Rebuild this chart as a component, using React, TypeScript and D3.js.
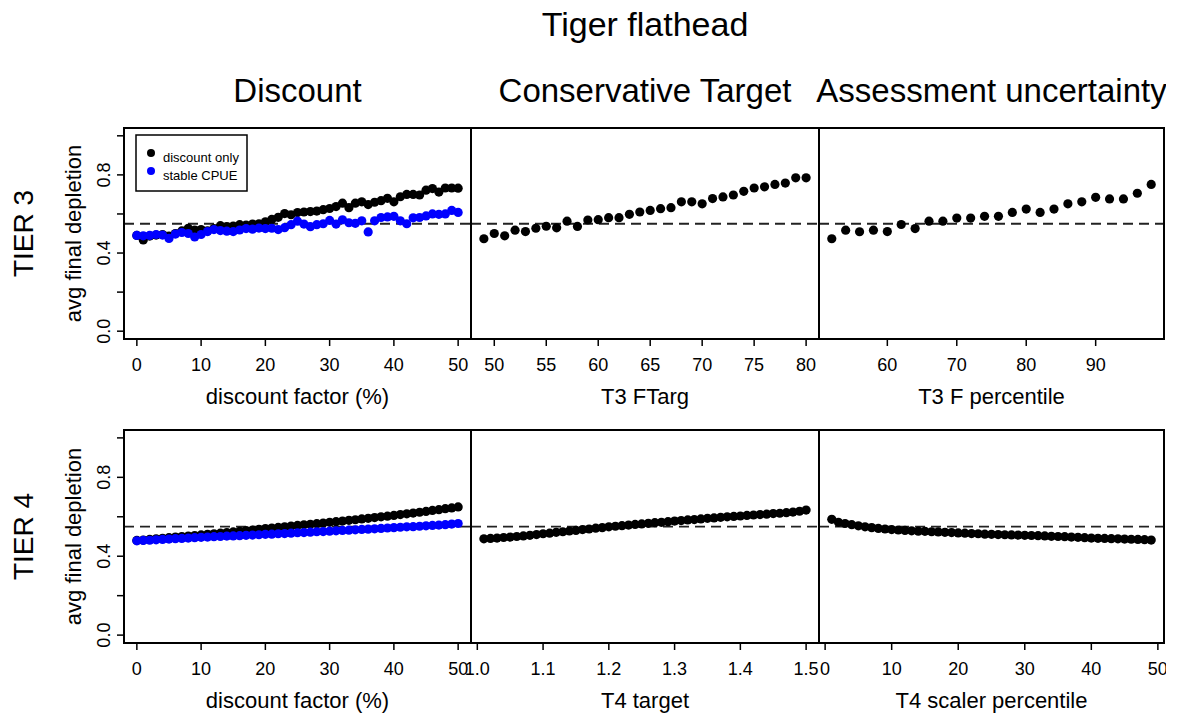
import React from "react";
import * as d3 from "d3";

// ---- data -----------------------------------------------------------------
const discountPct = d3.range(0, 51); // 0..50 %

const t3DiscountOnly = [
  0.490, 0.467, 0.487, 0.492, 0.495, 0.487, 0.500, 0.513, 0.527, 0.518,
  0.520, 0.513, 0.525, 0.540, 0.535, 0.538, 0.545, 0.543, 0.548, 0.550,
  0.560, 0.572, 0.583, 0.602, 0.596, 0.607, 0.610, 0.612, 0.615, 0.622,
  0.628, 0.638, 0.655, 0.632, 0.655, 0.662, 0.648, 0.660, 0.668, 0.680,
  0.662, 0.688, 0.700, 0.700, 0.697, 0.722, 0.730, 0.712, 0.733, 0.733,
  0.732,
];
const t3StableCPUE = [
  0.490, 0.488, 0.490, 0.495, 0.492, 0.475, 0.497, 0.505, 0.500, 0.482,
  0.495, 0.510, 0.520, 0.515, 0.512, 0.510, 0.518, 0.525, 0.522, 0.528,
  0.525, 0.527, 0.520, 0.530, 0.545, 0.563, 0.548, 0.535, 0.545, 0.550,
  0.567, 0.548, 0.570, 0.555, 0.552, 0.565, 0.508, 0.565, 0.582, 0.585,
  0.588, 0.565, 0.550, 0.580, 0.582, 0.590, 0.600, 0.598, 0.600, 0.618,
  0.608,
];

const t3FTarg = d3.range(49, 81); // 49..80
const t3FTargDepl = [
  0.473, 0.500, 0.488, 0.517, 0.510, 0.527, 0.537, 0.529, 0.563, 0.536,
  0.569, 0.571, 0.581, 0.581, 0.598, 0.610, 0.618, 0.627, 0.632, 0.662,
  0.662, 0.652, 0.679, 0.687, 0.697, 0.716, 0.733, 0.739, 0.751, 0.758,
  0.785, 0.785,
];

const t3FPct = d3.range(52, 99, 2); // 52..98
const t3FPctDepl = [
  0.473, 0.517, 0.509, 0.517, 0.510, 0.546, 0.525, 0.563, 0.563, 0.579,
  0.579, 0.588, 0.588, 0.608, 0.625, 0.608, 0.625, 0.652, 0.662, 0.685,
  0.677, 0.677, 0.706, 0.751,
];

const t4DiscountOnly = [
  0.480, 0.482, 0.485, 0.488, 0.491, 0.494, 0.497, 0.500, 0.502, 0.505,
  0.508, 0.511, 0.514, 0.517, 0.520, 0.523, 0.526, 0.530, 0.533, 0.536,
  0.540, 0.543, 0.546, 0.549, 0.553, 0.556, 0.559, 0.562, 0.565, 0.568,
  0.572, 0.575, 0.578, 0.582, 0.585, 0.589, 0.592, 0.596, 0.600, 0.603,
  0.607, 0.611, 0.615, 0.619, 0.623, 0.627, 0.632, 0.636, 0.641, 0.645,
  0.650,
];
const t4StableCPUE = [
  0.478, 0.480, 0.481, 0.483, 0.485, 0.487, 0.489, 0.490, 0.492, 0.494,
  0.496, 0.497, 0.499, 0.500, 0.502, 0.503, 0.504, 0.506, 0.507, 0.509,
  0.511, 0.512, 0.514, 0.515, 0.517, 0.519, 0.520, 0.522, 0.524, 0.525,
  0.527, 0.529, 0.531, 0.532, 0.534, 0.536, 0.537, 0.539, 0.541, 0.543,
  0.545, 0.547, 0.549, 0.550, 0.552, 0.554, 0.556, 0.558, 0.560, 0.563,
  0.566,
];

const t4Target = d3.range(101, 151).map((v) => v / 100); // 1.01..1.50
const t4TargetDepl = [
  0.488, 0.490, 0.492, 0.495, 0.497, 0.500, 0.503, 0.506, 0.510, 0.514,
  0.517, 0.521, 0.524, 0.528, 0.531, 0.535, 0.538, 0.542, 0.545, 0.549,
  0.552, 0.555, 0.558, 0.561, 0.564, 0.567, 0.570, 0.572, 0.575, 0.578,
  0.581, 0.584, 0.586, 0.589, 0.592, 0.594, 0.597, 0.600, 0.602, 0.604,
  0.607, 0.609, 0.611, 0.613, 0.616, 0.618, 0.621, 0.624, 0.628, 0.634,
];

const t4ScalerPct = d3.range(1, 50); // 1..49
const t4ScalerDepl = [
  0.587, 0.572, 0.566, 0.560, 0.554, 0.549, 0.545, 0.541, 0.538, 0.535,
  0.533, 0.531, 0.529, 0.527, 0.526, 0.524, 0.523, 0.521, 0.520, 0.518,
  0.517, 0.515, 0.514, 0.512, 0.511, 0.510, 0.509, 0.508, 0.507, 0.506,
  0.505, 0.504, 0.503, 0.501, 0.500, 0.499, 0.497, 0.496, 0.494, 0.492,
  0.491, 0.490, 0.489, 0.488, 0.487, 0.486, 0.485, 0.484, 0.482,
];

const yTicks = [0, 0.2, 0.4, 0.6, 0.8, 1.0];
const yTickLabels = [0, 0.4, 0.8];
const refDepletion = 0.55;

const columnTitles = ["Discount", "Conservative Target", "Assessment uncertainty"];
const rowTitles = ["TIER 3", "TIER 4"];
const legendLabels = ["discount only", "stable CPUE"];
const seriesColors = ["#000000", "#0000ff"];

// ---- layout ---------------------------------------------------------------
const W = 1179;
const H = 713;
const colEdges = [124, 471, 819, 1164];
const rowEdges = [
  [128, 339],
  [430, 643],
];
const FONT = "'Liberation Sans', Arial, Helvetica, sans-serif";
const PT_R = 4.6;

type Series = { x: number[]; y: number[]; color: string };
type Panel = {
  row: number;
  col: number;
  series: Series[];
  ticks: number[];
  fmt: (v: number) => string;
  xlabel: string;
};

const panels: Panel[] = [
  {
    row: 0, col: 0,
    series: [
      { x: discountPct, y: t3DiscountOnly, color: seriesColors[0] },
      { x: discountPct, y: t3StableCPUE, color: seriesColors[1] },
    ],
    ticks: [0, 10, 20, 30, 40, 50], fmt: d3.format("d"),
    xlabel: "discount factor (%)",
  },
  {
    row: 0, col: 1,
    series: [{ x: t3FTarg, y: t3FTargDepl, color: seriesColors[0] }],
    ticks: [50, 55, 60, 65, 70, 75, 80], fmt: d3.format("d"),
    xlabel: "T3 FTarg",
  },
  {
    row: 0, col: 2,
    series: [{ x: t3FPct, y: t3FPctDepl, color: seriesColors[0] }],
    ticks: [60, 70, 80, 90], fmt: d3.format("d"),
    xlabel: "T3 F percentile",
  },
  {
    row: 1, col: 0,
    series: [
      { x: discountPct, y: t4DiscountOnly, color: seriesColors[0] },
      { x: discountPct, y: t4StableCPUE, color: seriesColors[1] },
    ],
    ticks: [0, 10, 20, 30, 40, 50], fmt: d3.format("d"),
    xlabel: "discount factor (%)",
  },
  {
    row: 1, col: 1,
    series: [{ x: t4Target, y: t4TargetDepl, color: seriesColors[0] }],
    ticks: [1.0, 1.1, 1.2, 1.3, 1.4, 1.5], fmt: d3.format(".1f"),
    xlabel: "T4 target",
  },
  {
    row: 1, col: 2,
    series: [{ x: t4ScalerPct, y: t4ScalerDepl, color: seriesColors[0] }],
    ticks: [0, 10, 20, 30, 40, 50], fmt: d3.format("d"),
    xlabel: "T4 scaler percentile",
  },
];

// R-style axis range: data extent padded by 4% on each side
function paddedDomain(vals: number[]): [number, number] {
  const [lo, hi] = d3.extent(vals) as [number, number];
  const pad = (hi - lo) * 0.04;
  return [lo - pad, hi + pad];
}

function PanelView({ p }: { p: Panel }) {
  const [x0, x1] = [colEdges[p.col], colEdges[p.col + 1]];
  const [y0, y1] = rowEdges[p.row];
  const allX = p.series.flatMap((s) => s.x);
  const xs = d3.scaleLinear().domain(paddedDomain(allX)).range([x0, x1]);
  const ys = d3.scaleLinear().domain([-0.04, 1.04]).range([y1, y0]);
  const [dlo, dhi] = xs.domain();
  const ticks = p.ticks.filter((t) => t >= dlo - 1e-9 && t <= dhi + 1e-9);
  const cx = (x0 + x1) / 2;
  const cy = (y0 + y1) / 2;

  return (
    <g>
      {/* reference depletion */}
      <line
        x1={x0} x2={x1} y1={ys(refDepletion)} y2={ys(refDepletion)}
        stroke="#222" strokeWidth={1.8} strokeDasharray="10,6"
      />
      {p.series.map((s, si) => (
        <g key={si} fill={s.color}>
          {s.x.map((xv, i) => (
            <circle key={i} cx={xs(xv)} cy={ys(s.y[i])} r={PT_R} />
          ))}
        </g>
      ))}
      <rect
        x={x0} y={y0} width={x1 - x0} height={y1 - y0}
        fill="none" stroke="#000" strokeWidth={2}
      />
      {/* x axis */}
      {ticks.map((t) => (
        <g key={t}>
          <line x1={xs(t)} x2={xs(t)} y1={y1} y2={y1 + 7} stroke="#000" strokeWidth={1.5} />
          <text x={xs(t)} y={y1 + 32} textAnchor="middle" fontSize={18}>
            {p.fmt(t)}
          </text>
        </g>
      ))}
      <text x={cx} y={y1 + 65} textAnchor="middle" fontSize={22}>
        {p.xlabel}
      </text>
      {/* y axis on the first column only */}
      {p.col === 0 && (
        <g>
          {yTicks.map((t) => (
            <line key={t} x1={x0} x2={x0 - 7} y1={ys(t)} y2={ys(t)} stroke="#000" strokeWidth={1.5} />
          ))}
          {yTickLabels.map((t) => (
            <text
              key={t}
              transform={`translate(${x0 - 14},${ys(t)}) rotate(-90)`}
              textAnchor="middle" fontSize={18}
            >
              {d3.format(".1f")(t)}
            </text>
          ))}
          <text
            transform={`translate(81,${cy}) rotate(-90)`}
            textAnchor="middle" fontSize={22}
          >
            avg final depletion
          </text>
          <text
            transform={`translate(33,${cy}) rotate(-90)`}
            textAnchor="middle" fontSize={28}
          >
            {rowTitles[p.row]}
          </text>
        </g>
      )}
    </g>
  );
}

function Legend() {
  const lx = 136;
  const ly = 135;
  return (
    <g>
      <rect x={lx} y={ly} width={111} height={56} fill="#fff" stroke="#000" strokeWidth={1.5} />
      {legendLabels.map((lab, i) => (
        <g key={lab}>
          <circle cx={lx + 15} cy={ly + 18 + i * 18} r={4} fill={seriesColors[i]} />
          <text x={lx + 27} y={ly + 27 + i * 18} fontSize={13}>
            {lab}
          </text>
        </g>
      ))}
    </g>
  );
}

export default function App() {
  return (
    <svg
      width={W}
      height={H}
      style={{ position: "absolute", left: 0, top: 0, background: "#fff" }}
      fontFamily={FONT}
    >
      <defs>
        <clipPath id="device">
          <rect x={0} y={0} width={1166} height={H} />
        </clipPath>
      </defs>
      <rect width={W} height={H} fill="#fff" />
      <g clipPath="url(#device)">
        <text x={645} y={36} textAnchor="middle" fontSize={34}>
          Tiger flathead
        </text>
        {columnTitles.map((t, i) => (
          <text
            key={t}
            x={(colEdges[i] + colEdges[i + 1]) / 2}
            y={102}
            textAnchor="middle"
            fontSize={33}
          >
            {t}
          </text>
        ))}
        {panels.map((p, i) => (
          <PanelView key={i} p={p} />
        ))}
        <Legend />
      </g>
    </svg>
  );
}
